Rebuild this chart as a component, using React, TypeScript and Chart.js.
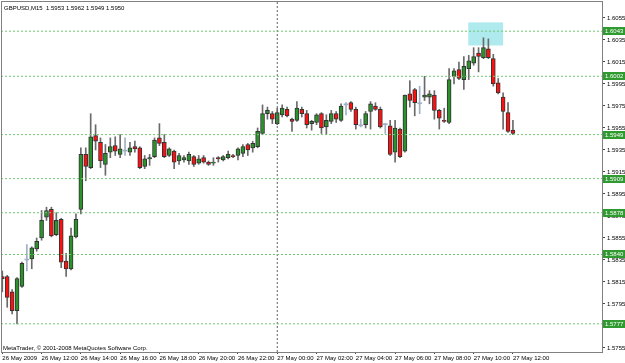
import React, { useEffect, useRef } from 'react';
import { Chart, registerables } from 'chart.js';

Chart.register(...registerables);

const TITLE = 'GBPUSD,M15  1.5953 1.5962 1.5949 1.5950';
const COPYRIGHT = 'MetaTrader, \u00A9 2001-2008 MetaQuotes Software Corp.';

// M15 bars, index 0 = 26 May 2009 10:00
const OPEN = [
  1.5820, 1.5820, 1.5806, 1.5789, 1.5811, 1.5835, 1.5836, 1.5845, 1.5855, 1.5874,
  1.5881, 1.5858, 1.5872, 1.5834, 1.5827, 1.5856, 1.5881, 1.5931, 1.5919, 1.5948,
  1.5942, 1.5922, 1.5933, 1.5939, 1.5931, 1.5934, 1.5933, 1.5938, 1.5937, 1.5920,
  1.5927, 1.5929, 1.5946, 1.5942, 1.5930, 1.5934, 1.5925, 1.5926, 1.5925, 1.5929,
  1.5923, 1.5928, 1.5924, 1.5923, 1.5928, 1.5926, 1.5928, 1.5930, 1.5930, 1.5932,
  1.5940, 1.5937, 1.5938, 1.5950, 1.5968, 1.5968, 1.5959, 1.5967, 1.5972, 1.5963,
  1.5962, 1.5972, 1.5968, 1.5959, 1.5960, 1.5968, 1.5956, 1.5961, 1.5968, 1.5962,
  1.5976, 1.5978, 1.5972, 1.5957, 1.5958, 1.5970, 1.5975, 1.5972, 1.5958, 1.5957,
  1.5933, 1.5954, 1.5934, 1.5986, 1.5990, 1.5977, 1.5983, 1.5983, 1.5985, 1.5971,
  1.5962, 1.5960, 1.6002, 1.6008, 1.5999, 1.6009, 1.6014, 1.6023, 1.6019, 1.6027,
  1.6018, 1.5996, 1.5983, 1.5969, 1.5953,
];
const HIGH = [
  1.5825, 1.5821, 1.5808, 1.5819, 1.5833, 1.5849, 1.5847, 1.5855, 1.5880, 1.5883,
  1.5883, 1.5878, 1.5873, 1.5841, 1.5864, 1.5877, 1.5937, 1.5937, 1.5968, 1.5958,
  1.5946, 1.5940, 1.5946, 1.5947, 1.5949, 1.5946, 1.5942, 1.5943, 1.5938, 1.5930,
  1.5931, 1.5946, 1.5959, 1.5949, 1.5937, 1.5935, 1.5932, 1.5930, 1.5933, 1.5930,
  1.5930, 1.5930, 1.5925, 1.5928, 1.5929, 1.5930, 1.5934, 1.5931, 1.5937, 1.5940,
  1.5941, 1.5943, 1.5955, 1.5976, 1.5974, 1.5970, 1.5973, 1.5976, 1.5974, 1.5964,
  1.5979, 1.5974, 1.5971, 1.5962, 1.5968, 1.5969, 1.5967, 1.5971, 1.5970, 1.5977,
  1.5978, 1.5979, 1.5974, 1.5963, 1.5970, 1.5979, 1.5978, 1.5974, 1.5959, 1.5962,
  1.5962, 1.5955, 1.5985, 1.5998, 1.5991, 1.5993, 1.6002, 1.5989, 1.5989, 1.5972,
  1.5973, 1.6009, 1.6009, 1.6015, 1.6020, 1.6021, 1.6028, 1.6028, 1.6037, 1.6036,
  1.6022, 1.6000, 1.5987, 1.5978, 1.5962,
];
const LOW = [
  1.5806, 1.5792, 1.5786, 1.5777, 1.5810, 1.5825, 1.5827, 1.5843, 1.5853, 1.5871,
  1.5856, 1.5857, 1.5828, 1.5820, 1.5826, 1.5855, 1.5877, 1.5907, 1.5918, 1.5935,
  1.5919, 1.5912, 1.5928, 1.5930, 1.5928, 1.5930, 1.5930, 1.5933, 1.5918, 1.5918,
  1.5921, 1.5928, 1.5939, 1.5928, 1.5929, 1.5918, 1.5922, 1.5924, 1.5922, 1.5920,
  1.5922, 1.5923, 1.5921, 1.5921, 1.5924, 1.5925, 1.5927, 1.5928, 1.5926, 1.5929,
  1.5930, 1.5933, 1.5937, 1.5949, 1.5963, 1.5959, 1.5958, 1.5965, 1.5965, 1.5952,
  1.5961, 1.5965, 1.5955, 1.5953, 1.5958, 1.5950, 1.5949, 1.5959, 1.5960, 1.5961,
  1.5967, 1.5970, 1.5954, 1.5956, 1.5955, 1.5954, 1.5971, 1.5955, 1.5950, 1.5930,
  1.5924, 1.5928, 1.5933, 1.5974, 1.5966, 1.5968, 1.5980, 1.5977, 1.5963, 1.5954,
  1.5960, 1.5959, 1.5995, 1.5999, 1.5990, 1.5999, 1.6012, 1.6006, 1.6018, 1.6018,
  1.5993, 1.5986, 1.5954, 1.5951, 1.5949,
];
const CLOSE = [
  1.5818, 1.5801, 1.5789, 1.5818, 1.5832, 1.5835, 1.5846, 1.5852, 1.5871, 1.5880,
  1.5857, 1.5871, 1.5833, 1.5827, 1.5857, 1.5872, 1.5931, 1.5920, 1.5947, 1.5943,
  1.5925, 1.5932, 1.5938, 1.5934, 1.5936, 1.5934, 1.5937, 1.5936, 1.5919, 1.5927,
  1.5928, 1.5944, 1.5941, 1.5929, 1.5936, 1.5924, 1.5930, 1.5928, 1.5931, 1.5922,
  1.5927, 1.5924, 1.5922, 1.5924, 1.5927, 1.5929, 1.5931, 1.5929, 1.5936, 1.5938,
  1.5935, 1.5941, 1.5952, 1.5968, 1.5971, 1.5963, 1.5969, 1.5973, 1.5966, 1.5961,
  1.5973, 1.5968, 1.5958, 1.5961, 1.5967, 1.5955, 1.5962, 1.5968, 1.5963, 1.5975,
  1.5976, 1.5972, 1.5958, 1.5957, 1.5968, 1.5977, 1.5972, 1.5956, 1.5958, 1.5931,
  1.5955, 1.5929, 1.5985, 1.5980, 1.5978, 1.5977, 1.5985, 1.5986, 1.5971, 1.5964,
  1.5961, 1.5999, 1.6007, 1.6000, 1.6011, 1.6016, 1.6020, 1.6020, 1.6028, 1.6019,
  1.5995, 1.5987, 1.5970, 1.5952, 1.5950,
];

const X_TICK_INDEX = [0, 8, 16, 24, 32, 40, 48, 56, 64, 72, 80, 88, 96, 104];
const X_TICK_LABELS = [
  '26 May 2009', '26 May 12:00', '26 May 14:00', '26 May 16:00', '26 May 18:00',
  '26 May 20:00', '26 May 22:00', '27 May 00:00', '27 May 02:00', '27 May 04:00',
  '27 May 06:00', '27 May 08:00', '27 May 10:00', '27 May 12:00',
];
const Y_TICKS = [
  1.5755, 1.5775, 1.5795, 1.5815, 1.5835, 1.5855, 1.5875, 1.5895,
  1.5915, 1.5935, 1.5955, 1.5975, 1.5995, 1.6015, 1.6035, 1.6055,
];
const LEVELS = [1.6043, 1.6002, 1.5949, 1.5909, 1.5878, 1.5840, 1.5777];
const VLINE_INDEX = 56;
const RECT_X = [94.9, 102.0];
const RECT_Y = [1.6030, 1.6051];

const X_MIN = -0.265;
const X_MAX = 122.14;
const Y_MIN = 1.575136;
const Y_MAX = 1.607045;

const FONT = "'Liberation Sans', Arial, sans-serif";
const FONT_SIZE = 6;
const UP = '#2b922b';
const DOWN = '#ff1010';
const DOJI = '#9fb0c4';

export default function App() {
  const ref = useRef<HTMLCanvasElement | null>(null);

  useEffect(() => {
    const canvas = ref.current;
    if (!canvas) return;
    const n = OPEN.length;
    const idx = Array.from({ length: n }, (_, i) => i);
    const kind = idx.map((i) => (CLOSE[i] > OPEN[i] ? 'up' : CLOSE[i] < OPEN[i] ? 'down' : 'doji'));

    const overlay = {
      id: 'mtOverlay',
      beforeDatasetsDraw(chart: any) {
        const { ctx, scales } = chart;
        const xs = scales.x;
        const ys = scales.y;
        const x0 = xs.getPixelForValue(RECT_X[0]);
        const x1 = xs.getPixelForValue(RECT_X[1]);
        const y0 = ys.getPixelForValue(RECT_Y[1]);
        const y1 = ys.getPixelForValue(RECT_Y[0]);
        ctx.save();
        ctx.fillStyle = '#aeeaee';
        ctx.fillRect(x0, y0, x1 - x0, y1 - y0);
        ctx.restore();
      },
      afterDraw(chart: any) {
        const { ctx, chartArea, scales } = chart;
        const ys = scales.y;
        ctx.save();
        ctx.strokeStyle = '#808080';
        ctx.lineWidth = 1;
        ctx.strokeRect(chartArea.left + 0.5, chartArea.top + 0.5, chartArea.right - chartArea.left, chartArea.bottom - chartArea.top);
        ctx.fillStyle = '#000';
        ctx.font = `${FONT_SIZE}px ${FONT}`;
        ctx.textBaseline = 'alphabetic';
        ctx.textAlign = 'left';
        ctx.fillText(TITLE, 4, 9.5);
        ctx.fillText(COPYRIGHT, 3, 350);
        LEVELS.forEach((lv) => {
          const y = Math.round(ys.getPixelForValue(lv));
          ctx.fillStyle = '#2f9a2f';
          ctx.fillRect(chartArea.right + 1, y - 4, 22, 8);
          ctx.fillStyle = '#fff';
          ctx.textBaseline = 'middle';
          ctx.fillText(lv.toFixed(4), chartArea.right + 3, y + 0.5);
        });
        ctx.restore();
      },
    };

    const levelSets = LEVELS.map((lv) => ({
      type: 'line',
      data: [{ x: X_MIN, y: lv }, { x: X_MAX, y: lv }],
      borderColor: '#74c774',
      borderWidth: 1,
      borderDash: [2, 2],
      pointRadius: 0,
      order: 0,
    }));

    const chart = new Chart(canvas, {
      type: 'bar',
      data: {
        datasets: [
          ...levelSets,
          {
            type: 'line',
            data: [{ x: VLINE_INDEX, y: Y_MIN }, { x: VLINE_INDEX, y: Y_MAX }],
            borderColor: '#606060',
            borderWidth: 1,
            borderDash: [2, 2],
            pointRadius: 0,
            order: 0,
          },
          {
            type: 'bar',
            data: idx.map((i) => ({ x: i, y: [Math.min(OPEN[i], CLOSE[i]), Math.max(OPEN[i], CLOSE[i])] })),
            backgroundColor: idx.map((i) => (kind[i] === 'up' ? UP : kind[i] === 'down' ? DOWN : DOJI)),
            borderColor: idx.map((i) => (kind[i] === 'doji' ? DOJI : '#333')),
            borderWidth: idx.map((i) => (kind[i] === 'doji' ? 0 : 1)),
            borderSkipped: false,
            barThickness: 4,
            minBarLength: 1,
            grouped: false,
            order: 1,
          },
          {
            type: 'bar',
            data: idx.map((i) => ({ x: i, y: [LOW[i], HIGH[i]] })),
            backgroundColor: idx.map((i) => (kind[i] === 'doji' ? DOJI : '#6a6a6a')),
            borderWidth: 0,
            barThickness: 1,
            grouped: false,
            order: 2,
          },
        ] as any,
      },
      options: {
        responsive: false,
        animation: false,
        events: [],
        devicePixelRatio: 1,
        layout: { padding: { left: 1, top: 1, right: 0, bottom: 0 } },
        plugins: { legend: { display: false }, tooltip: { enabled: false } },
        scales: {
          x: {
            type: 'linear',
            min: X_MIN,
            max: X_MAX,
            offset: false,
            afterBuildTicks: (s: any) => {
              s.ticks = X_TICK_INDEX.map((v) => ({ value: v }));
            },
            afterFit: (s: any) => {
              s.height = 11;
              s.paddingLeft = 0;
              s.paddingRight = 0;
            },
            grid: { offset: false, drawOnChartArea: false, drawTicks: true, tickLength: 2, tickColor: '#444' },
            border: { display: false },
            ticks: {
              align: 'start',
              autoSkip: false,
              maxRotation: 0,
              minRotation: 0,
              padding: 1,
              color: '#000',
              font: { family: FONT, size: FONT_SIZE },
              callback: (_v: any, i: number) => X_TICK_LABELS[i],
            },
          },
          y: {
            type: 'linear',
            position: 'right',
            min: Y_MIN,
            max: Y_MAX,
            afterBuildTicks: (s: any) => {
              s.ticks = Y_TICKS.map((v) => ({ value: v }));
            },
            afterFit: (s: any) => {
              s.width = 23;
              s.paddingTop = 0;
              s.paddingBottom = 0;
            },
            grid: { drawOnChartArea: false, drawTicks: true, tickLength: 3, tickColor: '#444' },
            border: { display: false },
            ticks: {
              autoSkip: false,
              padding: 2,
              color: '#000',
              font: { family: FONT, size: FONT_SIZE },
              callback: (v: any) => Number(v).toFixed(4),
            },
          },
        },
      } as any,
      plugins: [overlay],
    });

    return () => chart.destroy();
  }, []);

  return (
    <div style={{ position: 'fixed', left: 0, top: 0, width: 625, height: 363, background: '#fff' }}>
      <canvas ref={ref} width={625} height={363} style={{ display: 'block' }} />
    </div>
  );
}
